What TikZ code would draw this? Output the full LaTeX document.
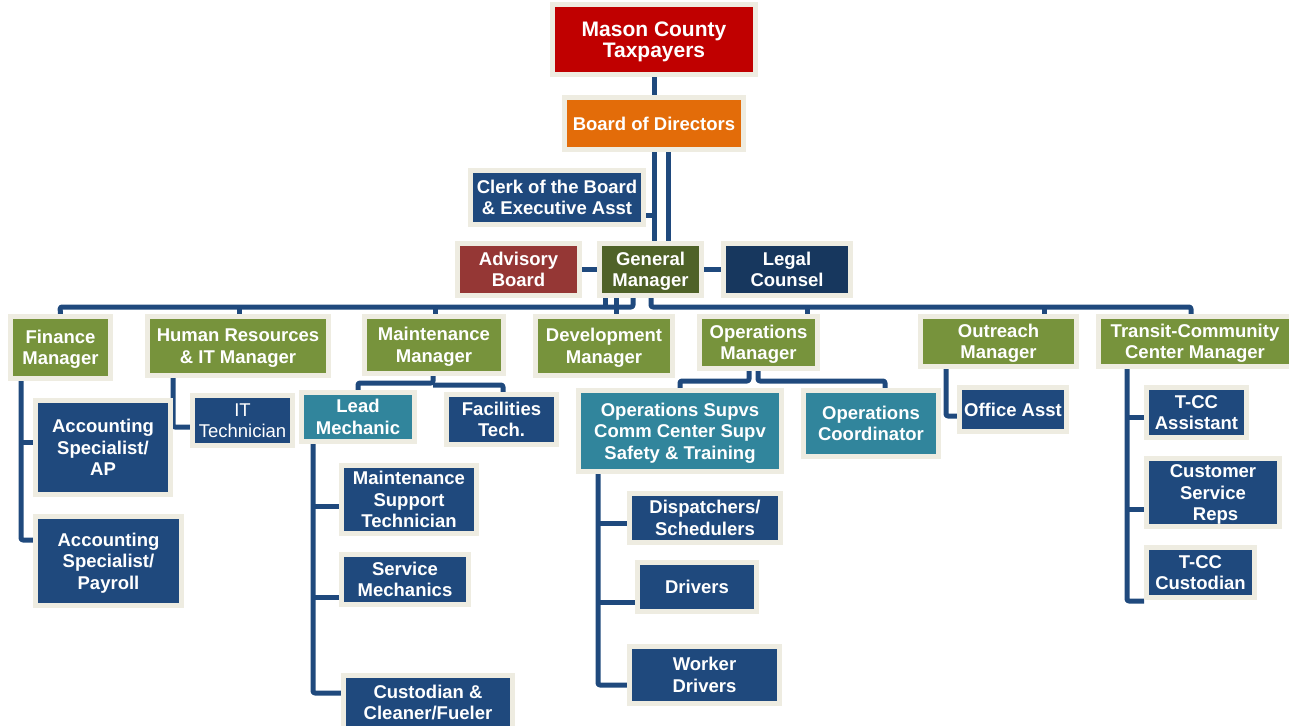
\documentclass[tikz,border=0pt]{standalone}
\usepackage{fontspec}
\setmainfont{Liberation Sans}
\usetikzlibrary{backgrounds}
\definecolor{frame}{HTML}{EEECE1}
\definecolor{cred}{HTML}{C00000}
\definecolor{corange}{HTML}{E36C09}
\definecolor{cnavy}{HTML}{1F497D}
\definecolor{cadv}{HTML}{953735}
\definecolor{cgm}{HTML}{4F6228}
\definecolor{clegal}{HTML}{17375E}
\definecolor{cgreen}{HTML}{77933C}
\definecolor{cteal}{HTML}{31859C}
\definecolor{cline}{HTML}{1F497D}
\def\tshift{2.3pt}
\tikzset{
  box/.style={draw=frame, line width=5pt, text=white, inner sep=0pt,
    font=\bfseries\fontsize{18.5}{21.5}\selectfont, /utils/exec={\def\tshift{2.3pt}}},
  redbox/.style={box, fill=cred, font=\bfseries\fontsize{21}{21.5}\selectfont, /utils/exec={\def\tshift{3.2pt}}},
  orangebox/.style={box, fill=corange},
  navybox/.style={box, fill=cnavy},
  advbox/.style={box, fill=cadv},
  gmbox/.style={box, fill=cgm},
  legalbox/.style={box, fill=clegal},
  greenbox/.style={box, fill=cgreen},
  tealbox/.style={box, fill=cteal},
  plainbox/.style={box, fill=cnavy, font=\fontsize{18.5}{21.5}\selectfont},
  conn/.style={draw=cline, line width=5pt, line join=round, rounded corners=2pt},
}
\newcommand{\ob}[7]{\node[#6, minimum width={#4-#2-5}, minimum height={#5-#3-5}] (#1) at ({(#2+#4)/2},{(#3+#5)/2}) {\raisebox{-\tshift}[\height][\depth]{\begin{tabular}{@{}c@{}}#7\end{tabular}}};}
\begin{document}
\begin{tikzpicture}[x=1pt,y=-1pt]
\useasboundingbox (0,0) rectangle (1289,725);
\clip (0,0) rectangle (1289,725);
% boxes
\ob{tax}{550}{2}{758}{77}{redbox}{Mason County\\Taxpayers}
\ob{bod}{562}{95}{746}{152}{orangebox}{Board of Directors}
\ob{clerk}{468}{168}{646}{227}{navybox}{Clerk of the Board\\\& Executive Asst}
\ob{adv}{455}{241}{582}{298}{advbox}{Advisory\\Board}
\ob{gm}{597}{241}{704}{298}{gmbox}{General\\Manager}
\ob{legal}{721}{241}{853}{298}{legalbox}{Legal\\Counsel}
\ob{fin}{8}{314}{113}{381}{greenbox}{Finance\\Manager}
\ob{hr}{145}{314}{331}{378}{greenbox}{Human Resources\\\& IT Manager}
\ob{maint}{362}{314}{506}{376}{greenbox}{Maintenance\\Manager}
\ob{dev}{533}{314}{675}{378}{greenbox}{Development\\Manager}
\ob{ops}{697}{314}{820}{371}{greenbox}{Operations\\Manager}
\ob{outr}{918}{314}{1079}{369}{greenbox}{Outreach\\Manager}
\ob{tcc}{1096}{314}{1294}{369}{greenbox}{Transit-Community\\Center Manager}
\ob{acap}{33}{398}{173}{497}{navybox}{Accounting\\Specialist/\\AP}
\ob{acpay}{33}{514}{184}{608}{navybox}{Accounting\\Specialist/\\Payroll}
\ob{itt}{190}{393}{295}{448}{plainbox}{IT\\Technician}
\ob{lead}{299}{390}{417}{444}{tealbox}{Lead\\Mechanic}
\ob{fac}{444}{392}{559}{447}{navybox}{Facilities\\Tech.}
\ob{msupp}{339}{463}{479}{536}{navybox}{Maintenance\\Support\\Technician}
\ob{svc}{339}{552}{471}{607}{navybox}{Service\\Mechanics}
\ob{cust}{341}{673}{515}{732}{navybox}{Custodian \&\\Cleaner/Fueler}
\ob{osup}{576}{388}{784}{474}{tealbox}{Operations Supvs\\Comm Center Supv\\Safety \& Training}
\ob{ocoord}{801}{388}{941}{459}{tealbox}{Operations\\Coordinator}
\ob{disp}{627}{491}{783}{545}{navybox}{Dispatchers/\\Schedulers}
\ob{drv}{635}{560}{759}{614}{navybox}{Drivers}
\ob{wdrv}{627}{644}{782}{706}{navybox}{Worker\\Drivers}
\ob{oasst}{957}{385}{1069}{434}{navybox}{Office Asst}
\ob{tcca}{1144}{385}{1249}{440}{navybox}{T-CC\\Assistant}
\ob{csr}{1144}{456}{1282}{529}{navybox}{Customer\\Service\\\hspace*{5pt}Reps}
\ob{tccc}{1144}{545}{1257}{600}{navybox}{T-CC\\Custodian}
% connectors
\begin{pgfonlayer}{background}
\draw[conn] (tax.south) -- (bod.north);
\draw[conn] (654,0 |- bod.south) -- (654,0 |- gm.north);
\draw[conn] (668,0 |- bod.south) -- (668,0 |- gm.north);
\draw[conn] (clerk.east |- 0,215) -- (654,215);
\draw[conn] (adv.east) -- (gm.west);
\draw[conn] (gm.east) -- (legal.west);
% main bus
\draw[conn] (633,0 |- gm.south) -- (633,307) -- (60,307) -- (fin.north);
\draw[conn] (605,0 |- gm.south) -- (605,307);
\draw[conn] (616,0 |- gm.south) -- (616,0 |- dev.north);
\draw[conn] (651,0 |- gm.south) -- (651,307) -- (1191,307) -- (1191,0 |- tcc.north);
\draw[conn] (239,307) -- (239,0 |- hr.north);
\draw[conn] (435,307) -- (435,0 |- maint.north);
\draw[conn] (807,307) -- (807,0 |- ops.north);
\draw[conn] (1044,307) -- (1044,0 |- outr.north);
% finance
\draw[conn] (21,0 |- fin.south) -- (21,540) -- (acpay.west |- 0,540);
\draw[conn] (21,442) -- (acap.west |- 0,442);
% HR
\draw[conn] (173,0 |- hr.south) -- (173,427) -- (itt.west |- 0,427);
% maintenance
\draw[conn] (433,0 |- maint.south) -- (433,383) -| (lead.north);
\draw[conn] (433,385) -| (503,0 |- fac.north);
\draw[conn] (313,0 |- lead.south) -- (313,693) -- (cust.west |- 0,693);
\draw[conn] (313,506) -- (msupp.west |- 0,506);
\draw[conn] (313,597) -- (svc.west |- 0,597);
% operations
\draw[conn] (749,0 |- ops.south) -- (749,381) -| (osup.north);
\draw[conn] (758,0 |- ops.south) -- (758,381) -| (885,0 |- ocoord.north);
\draw[conn] (598,0 |- osup.south) -- (598,685) -- (wdrv.west |- 0,685);
\draw[conn] (598,523) -- (disp.west |- 0,523);
\draw[conn] (598,602) -- (drv.west |- 0,602);
% outreach
\draw[conn] (946,0 |- outr.south) -- (946,416) -- (oasst.west |- 0,416);
% transit
\draw[conn] (1127,0 |- tcc.south) -- (1127,601) -- (tccc.west |- 0,601);
\draw[conn] (1127,417) -- (tcca.west |- 0,417);
\draw[conn] (1127,509) -- (csr.west |- 0,509);
\end{pgfonlayer}
\end{tikzpicture}
\end{document}
